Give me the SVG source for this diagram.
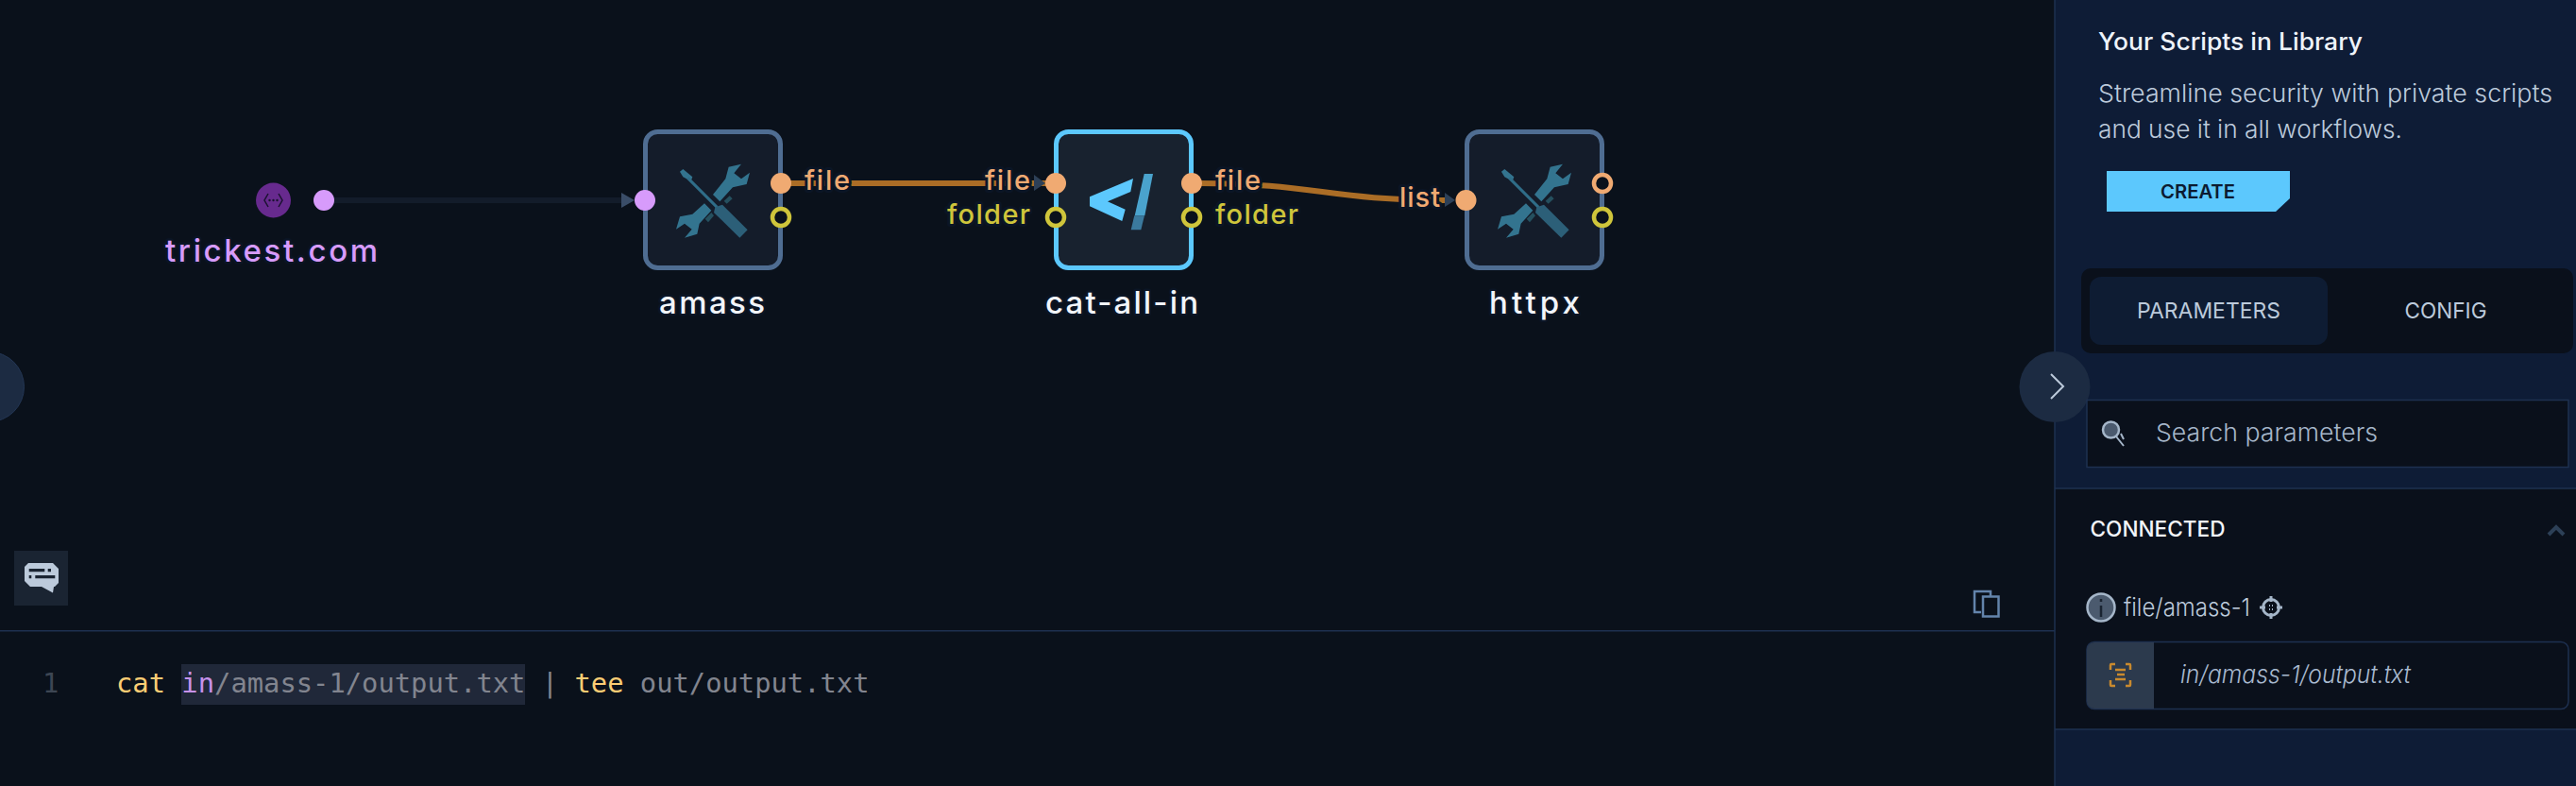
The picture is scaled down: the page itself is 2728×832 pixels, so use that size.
<svg xmlns="http://www.w3.org/2000/svg" width="2728" height="832" viewBox="0 0 2728 832">
<style>
.lbl{font-family:"Inter","Noto Sans",sans-serif;font-size:29px;font-weight:500;paint-order:stroke;stroke:#0b1525;stroke-width:6px;stroke-linejoin:round}
.nm{font-family:"Inter","Noto Sans",sans-serif;font-size:33px;font-weight:500;fill:#f2f5fa;text-anchor:middle;paint-order:stroke;stroke:#0b1525;stroke-width:5px;stroke-linejoin:round}
.o{fill:#f0aa72}.y{fill:#cfc53b}
.box{stroke-width:5;fill:#141c2a}
.ph{fill:#0a111b;stroke-width:4.5}
.code{font-family:"DejaVu Sans Mono",monospace;font-size:28.8px}
.line{fill:none;stroke:#1e3050;stroke-width:1.5}
.ui{font-family:"Inter","Noto Sans",sans-serif}
.tool{fill:#33748f}
.edge{fill:none;stroke:#ab6d26;stroke-width:6}
.head{fill:#2d4057}
</style>
<defs>
<g id="tools" transform="translate(670 130) scale(.33333)">
<path class="tool" d="M150 155L160 147L190 172L185 185L160 172Z"/>
<path d="M175 175L268 268" fill="none" stroke="#2f6d88" stroke-width="9"/>
<path d="M262 268L285 260L365 340L340 365L258 285Z" fill="#2c5f78"/>
<path class="tool" d="M345 131L305 140L295 178L255 228L277 250L318 205L362 195L372 158L345 178L322 160Z"/>
<path class="tool" d="M165 365L205 353L212 320L250 278L228 256L190 290L150 298L138 338L165 320L188 338Z"/>
<path d="M290 248L308 232L317 241L299 257ZM230 305L250 285L258 295L240 316Z" fill="#25505f"/>
</g>
</defs>
<rect width="2728" height="832" fill="#0a111b"/>
<g id="connectors">
<path d="M343 212H662" fill="none" stroke="#131c2a" stroke-width="6"/>
<path class="edge" d="M827 194H1118"/>
<path class="edge" d="M1262 194C1400 194 1400 212 1535 212"/>
</g>
<g id="trickest">
<circle cx="289.500" cy="212" r="18.500" fill="#672a8e"/>
<path d="M284 205l-4 7 4 7M295 205l4 7-4 7" fill="none" stroke="#1a1230" stroke-width="1.500"/>
<circle cx="285.500" cy="212" r="1.200" fill="#1a1230"/><circle cx="289.500" cy="212" r="1.200" fill="#1a1230"/><circle cx="293.500" cy="212" r="1.200" fill="#1a1230"/>
<circle cx="343" cy="212" r="11" fill="#d79bfb"/>
<text class="nm" x="287.500" y="277" style="fill:#d79bfb" textLength="225">trickest.com</text>
</g>
<g id="amass">
<rect class="box" x="683.500" y="139.500" width="143" height="144" rx="13" stroke="#4f6d92"/>
<use href="#tools"/>
<circle cx="683" cy="212" r="11" fill="#d79bfb"/>
<circle class="o" cx="827" cy="194" r="11"/>
<circle class="ph" cx="827" cy="230" r="9" stroke="#cfc53b"/>
<text class="lbl o" x="852" y="201" textLength="48">file</text>
<text class="nm" x="754" y="332" textLength="112">amass</text>
</g>
<g id="cat-all-in">
<rect class="box" x="1118.500" y="139.500" width="143" height="144" rx="13" stroke="#5cc8fd" style="fill:#18222f"/>
<path d="M1154 208.300L1200 189L1197.300 203L1173 213.300L1191.700 221.700L1188.300 234L1154 218.300Z" fill="#5cc8fd"/>
<path d="M1211.700 184H1221L1212.300 228.300H1201.700Z" fill="#4aa3cd"/>
<path d="M1201.300 228.300H1212L1208.300 243.300H1197.700Z" fill="#3b7a9e"/>
<circle class="o" cx="1118" cy="194" r="11"/>
<circle class="ph" cx="1118" cy="230" r="9" stroke="#cfc53b"/>
<circle class="o" cx="1262" cy="194" r="11"/>
<circle class="ph" cx="1262" cy="230" r="9" stroke="#cfc53b"/>
<text class="lbl o" x="1043" y="201" textLength="48">file</text>
<text class="lbl y" x="1003" y="237" textLength="88">folder</text>
<text class="lbl o" x="1287" y="201" textLength="48">file</text>
<text class="lbl y" x="1287" y="237" textLength="88">folder</text>
<text class="nm" x="1188" y="332" textLength="162">cat-all-in</text>
</g>
<g id="httpx">
<rect class="box" x="1553.500" y="139.500" width="143" height="144" rx="13" stroke="#4f6d92"/>
<use href="#tools" x="870"/>
<circle class="o" cx="1552.500" cy="212" r="11"/>
<circle class="ph" cx="1697" cy="194" r="9" stroke="#f0aa72"/>
<circle class="ph" cx="1697" cy="230" r="9" stroke="#cfc53b"/>
<text class="lbl o" x="1482" y="219" textLength="43">list</text>
<text class="nm" x="1625" y="332" textLength="96">httpx</text>
</g>
<g id="connector-heads">
<path d="M658 204l14 8-14 8z" fill="#3a4d68"/>
<path class="head" d="M1095 185l12 9-12 8z"/>
<path class="head" d="M1530 204l11 8-11 7z"/>
</g>
<g id="editor">
<circle cx="-11.500" cy="409.500" r="37" fill="#1c2b42" stroke="#233654" stroke-width="1"/>
<rect x="15" y="583" width="57" height="58" fill="#1a2432"/>
<path d="M30 596H56L62 602V617L58 621H57L56 627.500L44 621H32L26 615V600Z" fill="#bccadb"/>
<path d="M30.700 602H47.300V605.300H30.700ZM50.700 602H54V605.300H50.700ZM30.700 609H33.300V612.300H30.700ZM37.300 609H58.300V612.300H37.300Z" fill="#1a2432"/>
<path d="M2108 632V626H2091V648H2098" fill="none" stroke="#6384ab" stroke-width="2.500"/>
<rect x="2100" y="631.500" width="16.500" height="21" fill="none" stroke="#6384ab" stroke-width="2.500"/>
<rect y="667" width="2176" height="1.500" fill="#1e3050"/>
<rect x="192" y="703" width="364" height="43" fill="#202839"/>
<text class="code" x="45" y="733" fill="#3d4653">1</text>
<text class="code" x="123" y="733" xml:space="preserve" fill="#82858f"><tspan fill="#fbcd74">cat</tspan> <tspan fill="#c792ea">in</tspan>/amass-1/output.txt | <tspan fill="#fbcd74">tee</tspan> out/output.txt</text>
</g>
<g id="panel">
<rect x="2176" width="552" height="832" fill="#0e1c36"/>
<rect x="2176" y="517" width="552" height="255" fill="#0a101b"/>
<path class="line" d="M2176 0V832M2176 517H2728M2176 772H2728"/>
<text class="ui" x="2222" y="53" font-size="25" font-weight="500" fill="#eef3fa" textLength="280" lengthAdjust="spacingAndGlyphs">Your Scripts in Library</text>
<text class="ui" x="2222" y="108" font-size="26" font-weight="300" fill="#bccadb" textLength="481" lengthAdjust="spacingAndGlyphs">Streamline security with private scripts</text>
<text class="ui" x="2222" y="146" font-size="26" font-weight="300" fill="#bccadb" textLength="322" lengthAdjust="spacingAndGlyphs">and use it in all workflows.</text>
<path d="M2231 181H2425V210L2410 224H2231z" fill="#5cc8fd"/>
<text class="ui" x="2288" y="210" font-size="20" font-weight="600" fill="#0c1a30" textLength="79" lengthAdjust="spacingAndGlyphs">CREATE</text>
<rect x="2204" y="284" width="521" height="90" rx="10" fill="#0a101b"/>
<rect x="2213" y="293" width="252" height="72" rx="12" fill="#0e1c33"/>
<text class="ui" x="2263" y="337" font-size="23" font-weight="400" fill="#bccadb" textLength="152" lengthAdjust="spacingAndGlyphs">PARAMETERS</text>
<text class="ui" x="2546.500" y="337" font-size="23" font-weight="400" fill="#bccadb" textLength="87" lengthAdjust="spacingAndGlyphs">CONFIG</text>
<circle cx="2176" cy="409.500" r="37.500" fill="#1c2b42"/>
<path d="M2172 396l13 13-13 13" fill="none" stroke="#bccadb" stroke-width="2"/>
<rect x="2210" y="423.500" width="510" height="71" fill="#0a101b" stroke="#1e3050" stroke-width="1.500"/>
<circle cx="2235.500" cy="455" r="8.500" fill="#4b5a6e" stroke="#a5b6c9" stroke-width="2.500"/>
<path d="M2241 462l8 10M2246 459l3 6" fill="none" stroke="#a5b6c9" stroke-width="2"/>
<text class="ui" x="2283" y="467" font-size="26" font-weight="300" fill="#a5b6c9" textLength="235" lengthAdjust="spacingAndGlyphs">Search parameters</text>
<text class="ui" x="2213.500" y="568" font-size="23" font-weight="500" fill="#f2f5fa" textLength="143" lengthAdjust="spacingAndGlyphs">CONNECTED</text>
<path d="M2699 566l8-8 8 8" fill="none" stroke="#2d4057" stroke-width="4"/>
<circle cx="2225" cy="643" r="14.500" fill="#4b5a6e" stroke="#a5b6c9" stroke-width="2.500"/>
<path d="M2225 641V653M2225 634V637" fill="none" stroke="#1a2432" stroke-width="2.500"/>
<text class="ui" x="2249" y="652" font-size="26" font-weight="300" fill="#bccadb" textLength="134" lengthAdjust="spacingAndGlyphs">file/amass-1</text>
<circle cx="2405" cy="643" r="8.500" fill="none" stroke="#a5b6c9" stroke-width="3"/>
<path d="M2405 631v6M2405 649v6M2393 643h6M2411 643h6" fill="none" stroke="#a5b6c9" stroke-width="3"/>
<path d="M2403 641h1M2406 641h1M2403 645h1M2406 645h1" stroke="#a5b6c9" stroke-width="2"/>
<rect x="2210" y="679.500" width="510" height="71" rx="8" fill="#0a101b" stroke="#1e3050" stroke-width="1.500"/>
<path d="M2218 680h63v70h-63a8 8 0 0 1-8-8v-54a8 8 0 0 1 8-8z" fill="#2c3a4d"/>
<path d="M2240 703h-4q-1 0-1 1v5M2251 703h4q1 0 1 1v5M2240 726h-4q-1 0-1-1v-5M2251 726h4q1 0 1-1v-5M2240 709h11M2242 714h8M2240 719h11" fill="none" stroke="#c98a2e" stroke-width="2.500"/>
<text class="ui" x="2309" y="723" font-size="26" font-weight="300" font-style="italic" fill="#a8b9cf" textLength="244" lengthAdjust="spacingAndGlyphs">in/amass-1/output.txt</text>
</g>
</svg>
